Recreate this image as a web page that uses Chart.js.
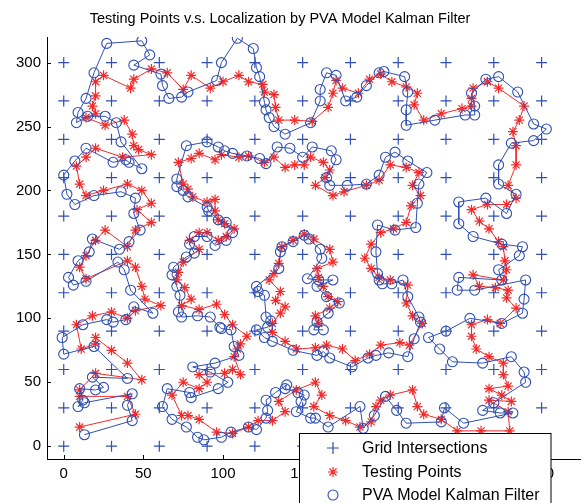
<!DOCTYPE html>
<html>
<head>
<meta charset="utf-8">
<script src="https://cdn.jsdelivr.net/npm/chart.js@4.4.1/dist/chart.umd.min.js"></script>
<style>
  html, body { margin: 0; padding: 0; background: #fff; }
</style>
</head>
<body>
<canvas id="chart" width="587" height="503"></canvas>
<script>
const titleText = 'Testing Points v.s. Localization by PVA Model Kalman Filter';
const legendLabels = ['Grid Intersections', 'Testing Points', 'PVA Model Kalman Filter'];

// grid of reference intersections, every 30 units
const gridX = [0, 30, 60, 90, 120, 150, 180, 210, 240, 270, 300];
const gridY = [0, 30, 60, 90, 120, 150, 180, 210, 240, 270, 300];

const xTicks = [0, 50, 100, 150, 200, 250, 300];
const yTicks = [0, 50, 100, 150, 200, 250, 300];

// true walk (red stars), in path order
const testingPoints = [
  [10,15],[45,25],[40,39],[10,39],[10,44],[20,57],[49,52],[40,65],[30,75],[20,85],[20,80],[11,76],
  [8,95],[18,102],[30,105],[40,100],[45,106],[61,110],[51,115],[49,125],[45,140],[40,145],[14,131],
  [10,140],[14,149],[20,161],[26,169],[40,156],[45,169],[55,175],[46,185],[55,190],[49,200],[40,205],
  [25,200],[14,196],[10,205],[8,219],[14,226],[20,233],[37,226],[55,228],[47,232],[44,235],[43,244],
  [38,255],[26,251],[14,257],[20,260],[18,266],[20,274],[20,285],[25,290],[42,280],[44,287],[55,295],
  [65,292],[75,279],[80,290],[92,280],[100,285],[110,290],[116,285],[125,283],[126,277],[132,275],
  [133,265],[135,255],[145,255],[156,254],[166,265],[169,276],[171,286],[175,280],[185,276],[192,287],
  [199,291],[206,285],[215,281],[222,276],[220,267],[226,255],[237,260],[250,264],[256,266],[256,272],
  [257,280],[266,285],[273,280],[289,266],[286,255],[282,246],[284,235],[284,220],[279,204],[284,194],
  [278,189],[266,189],[256,185],[261,176],[267,170],[273,160],[276,156],[277,145],[278,138],[276,130],
  [257,134],[261,125],[271,124],[279,122],[278,116],[284,108],[274,96],[266,99],[256,95],[256,86],
  [259,76],[267,70],[276,65],[276,56],[279,47],[267,45],[275,40],[281,35],[267,36],[279,27],[280,12],
  [262,12],[247,12],[237,21],[226,25],[222,31],[219,44],[205,40],[199,36],[196,31],[193,19],[186,15],
  [177,20],[167,24],[157,31],[162,40],[158,50],[146,44],[135,35],[139,27],[131,20],[122,20],[116,15],
  [106,10],[96,11],[85,21],[78,24],[74,24],[68,40],[75,50],[85,45],[90,50],[85,56],[101,57],[106,60],
  [111,56],[107,70],[109,76],[111,80],[115,86],[106,95],[101,103],[96,111],[85,107],[74,110],[80,115],
  [76,124],[71,130],[72,136],[75,144],[85,154],[79,161],[85,167],[90,167],[97,161],[102,164],[107,170],
  [101,174],[97,177],[95,184],[95,193],[90,191],[81,195],[78,201],[75,205],[72,222],[80,225],[85,229],
  [95,224],[99,228],[110,226],[116,227],[126,222],[132,226],[139,218],[145,220],[151,220],[155,226],
  [163,222],[167,216],[164,210],[158,204],[169,196],[176,199],[190,204],[198,208],[205,220],[215,218],
  [223,214],[219,204],[224,196],[218,188],[215,175],[207,170],[199,167],[193,158],[189,147],[193,139],
  [198,132],[205,130],[216,126],[215,112],[219,102],[225,96],[217,79],[211,81],[199,79],[192,72],
  [183,67],[175,76],[165,79],[158,77],[146,76],[139,82],[131,89],[131,96],[136,104],[139,109],[133,114],
  [136,121],[129,130],[132,135],[135,143],[137,156],[144,161],[151,166],[157,162],[167,154],[169,144],
  [159,139],[160,132],[163,125],[166,117],[172,113],[167,108],[158,102],[160,96]
];

// filter estimates (blue circles), in path order
const kalmanPoints = [
  [13,9],[43,20],[40,32],[43,41],[13,34],[9,31],[12,36],[10,45],[20,44],[25,46],[18,54],[40,53],
  [19,78],[0,72],[-1,85],[12,95],[27,99],[31,97],[39,99],[44,109],[56,104],[42,122],[38,138],[34,144],
  [14,129],[6,126],[3,132],[9,145],[16,152],[18,162],[35,154],[41,160],[48,169],[44,182],[45,194],
  [36,199],[19,196],[7,189],[2,197],[0,212],[7,223],[14,233],[31,222],[39,224],[41,222],[49,217],
  [36,238],[33,253],[26,258],[15,258],[8,253],[9,261],[14,272],[19,292],[27,315],[49,317],[54,306],
  [44,298],[61,291],[62,282],[66,272],[74,273],[78,277],[96,286],[99,300],[109,319],[119,311],[121,296],
  [123,289],[126,269],[127,263],[129,257],[132,250],[139,244],[155,253],[161,270],[161,279],[165,292],
  [171,290],[177,270],[184,273],[190,282],[198,292],[201,293],[214,289],[216,277],[215,263],[215,251],
  [233,255],[252,259],[258,259],[258,266],[256,276],[265,287],[273,289],[285,277],[295,252],[303,248],
  [295,239],[281,237],[273,220],[273,205],[284,197],[278,182],[265,194],[248,191],[248,174],[257,164],
  [275,158],[288,156],[286,149],[273,138],[275,130],[248,132],[247,122],[258,122],[290,130],[289,115],
  [288,104],[275,96],[255,100],[240,90],[229,85],[236,76],[244,66],[263,65],[281,70],[289,58],[290,50],
  [270,34],[263,28],[274,26],[282,26],[251,18],[239,30],[237,19],[215,18],[209,28],[202,39],[195,24],
  [188,14],[186,31],[166,15],[158,22],[155,22],[146,27],[149,35],[151,40],[147,42],[139,45],[140,48],
  [133,42],[127,36],[128,28],[127,22],[121,13],[116,15],[105,11],[99,7],[88,5],[84,7],[77,15],[68,21],
  [62,31],[65,45],[79,42],[80,38],[97,45],[103,50],[92,58],[81,62],[95,65],[110,71],[107,78],[105,91],
  [99,92],[98,93],[92,101],[84,102],[74,101],[72,105],[73,118],[71,125],[68,134],[69,140],[77,148],
  [82,151],[79,158],[82,164],[90,164],[95,157],[102,161],[106,167],[102,175],[97,177],[91,184],[90,187],
  [78,195],[75,200],[71,203],[71,209],[77,235],[90,238],[97,234],[101,231],[106,229],[115,227],[123,225],
  [127,221],[134,234],[142,233],[150,226],[156,234],[168,231],[171,224],[165,210],[167,204],[178,204],
  [190,205],[198,212],[202,226],[208,230],[216,223],[228,214],[223,205],[222,190],[221,171],[208,169],
  [197,173],[196,152],[197,135],[198,130],[200,127],[206,127],[213,130],[216,117],[223,101],[224,97],
  [220,84],[216,70],[204,73],[196,71],[191,69],[181,62],[167,69],[163,74],[159,71],[144,75],[131,82],
  [126,85],[121,91],[128,93],[130,98],[127,101],[126,118],[122,121],[121,125],[135,139],[136,152],
  [137,156],[144,160],[151,165],[154,162],[161,154],[162,147],[153,131],[160,130],[169,130],[159,125],
  [165,117],[173,112],[166,104],[159,97],[157,91],[163,91]
];

const BLUE = '#2f4fb4';
const RED = '#f42a2a';

const gridPoints = [];
gridY.forEach(y => gridX.forEach(x => gridPoints.push({ x, y })));

Chart.defaults.font.family = '"Liberation Sans", Arial, sans-serif';
Chart.defaults.font.size = 15;
Chart.defaults.color = '#000';

// MATLAB-like title, inward tick marks and a boxed legend over the lower right corner
const decorPlugin = {
  id: 'decor',
  afterDraw(chart) {
    const ctx = chart.ctx;
    const area = chart.chartArea;
    const xs = chart.scales.x, ys = chart.scales.y;
    ctx.save();

    ctx.strokeStyle = '#000';
    ctx.lineWidth = 1;
    ctx.beginPath();
    xTicks.forEach(v => {
      const px = Math.round(xs.getPixelForValue(v)) + 0.5;
      ctx.moveTo(px, area.bottom); ctx.lineTo(px, area.bottom - 4);
    });
    yTicks.forEach(v => {
      const py = Math.round(ys.getPixelForValue(v)) + 0.5;
      ctx.moveTo(area.left, py); ctx.lineTo(area.left + 4, py);
    });
    ctx.stroke();

    ctx.fillStyle = '#000';
    ctx.font = '14.5px "Liberation Sans", Arial, sans-serif';
    ctx.textAlign = 'center';
    ctx.textBaseline = 'middle';
    ctx.fillText(titleText, 280, 19);

    const bx = 299.5, by = 433.5, bw = 251.5, bh = 80;
    ctx.fillStyle = '#fff';
    ctx.fillRect(bx, by, bw, bh);
    ctx.strokeStyle = '#000';
    ctx.lineWidth = 1;
    ctx.strokeRect(bx, by, bw, bh);

    const mx = 333, rows = [448, 472, 495];
    ctx.lineWidth = 1.2;
    ctx.strokeStyle = BLUE;
    ctx.beginPath();
    ctx.moveTo(mx - 6, rows[0]); ctx.lineTo(mx + 6, rows[0]);
    ctx.moveTo(mx, rows[0] - 6); ctx.lineTo(mx, rows[0] + 6);
    ctx.stroke();

    ctx.strokeStyle = RED;
    const r = 5, d = r * Math.SQRT1_2;
    ctx.beginPath();
    ctx.moveTo(mx - r, rows[1]); ctx.lineTo(mx + r, rows[1]);
    ctx.moveTo(mx, rows[1] - r); ctx.lineTo(mx, rows[1] + r);
    ctx.moveTo(mx - d, rows[1] - d); ctx.lineTo(mx + d, rows[1] + d);
    ctx.moveTo(mx - d, rows[1] + d); ctx.lineTo(mx + d, rows[1] - d);
    ctx.stroke();

    ctx.strokeStyle = BLUE;
    ctx.lineWidth = 1.1;
    ctx.beginPath();
    ctx.arc(mx, rows[2], 5, 0, Math.PI * 2);
    ctx.stroke();

    ctx.fillStyle = '#000';
    ctx.font = '16px "Liberation Sans", Arial, sans-serif';
    ctx.textAlign = 'left';
    legendLabels.forEach((t, i) => ctx.fillText(t, 362, rows[i] + 1));
    ctx.restore();
  }
};

new Chart(document.getElementById('chart').getContext('2d'), {
  type: 'scatter',
  data: {
    datasets: [
      {
        label: legendLabels[0],
        data: gridPoints,
        pointStyle: 'cross',
        pointRadius: 5.5,
        pointBorderWidth: 1.2,
        borderColor: BLUE,
        backgroundColor: BLUE,
        showLine: false,
        order: 3
      },
      {
        label: legendLabels[1],
        data: testingPoints.map(p => ({ x: p[0], y: p[1] })),
        showLine: true,
        borderColor: RED,
        borderWidth: 1,
        pointStyle: 'star',
        pointRadius: 5,
        pointBorderWidth: 1.2,
        pointBorderColor: RED,
        backgroundColor: RED,
        tension: 0,
        order: 2
      },
      {
        label: legendLabels[2],
        data: kalmanPoints.map(p => ({ x: p[0], y: p[1] })),
        showLine: true,
        borderColor: BLUE,
        borderWidth: 1,
        pointStyle: 'circle',
        pointRadius: 5,
        pointBorderWidth: 1.1,
        pointBorderColor: BLUE,
        pointBackgroundColor: 'rgba(0,0,0,0)',
        backgroundColor: 'rgba(0,0,0,0)',
        tension: 0,
        order: 1
      }
    ]
  },
  options: {
    responsive: false,
    animation: false,
    layout: { padding: { top: 37, right: 0, left: 0, bottom: 0 } },
    plugins: {
      legend: { display: false },
      title: { display: false },
      tooltip: { enabled: false }
    },
    scales: {
      x: {
        type: 'linear',
        min: -10.5,
        max: 324.3,
        afterFit: s => { s.height = 44; },
        afterBuildTicks: s => { s.ticks = xTicks.map(v => ({ value: v })); },
        grid: { display: false, drawTicks: false },
        border: { display: true, color: '#000', width: 1 },
        ticks: { padding: 6, maxRotation: 0, autoSkip: false }
      },
      y: {
        type: 'linear',
        min: -10,
        max: 320,
        afterFit: s => { s.width = 47; },
        afterBuildTicks: s => { s.ticks = yTicks.map(v => ({ value: v })); },
        grid: { display: false, drawTicks: false },
        border: { display: true, color: '#000', width: 1 },
        ticks: { padding: 6, autoSkip: false }
      }
    }
  },
  plugins: [decorPlugin]
});
</script>
</body>
</html>
